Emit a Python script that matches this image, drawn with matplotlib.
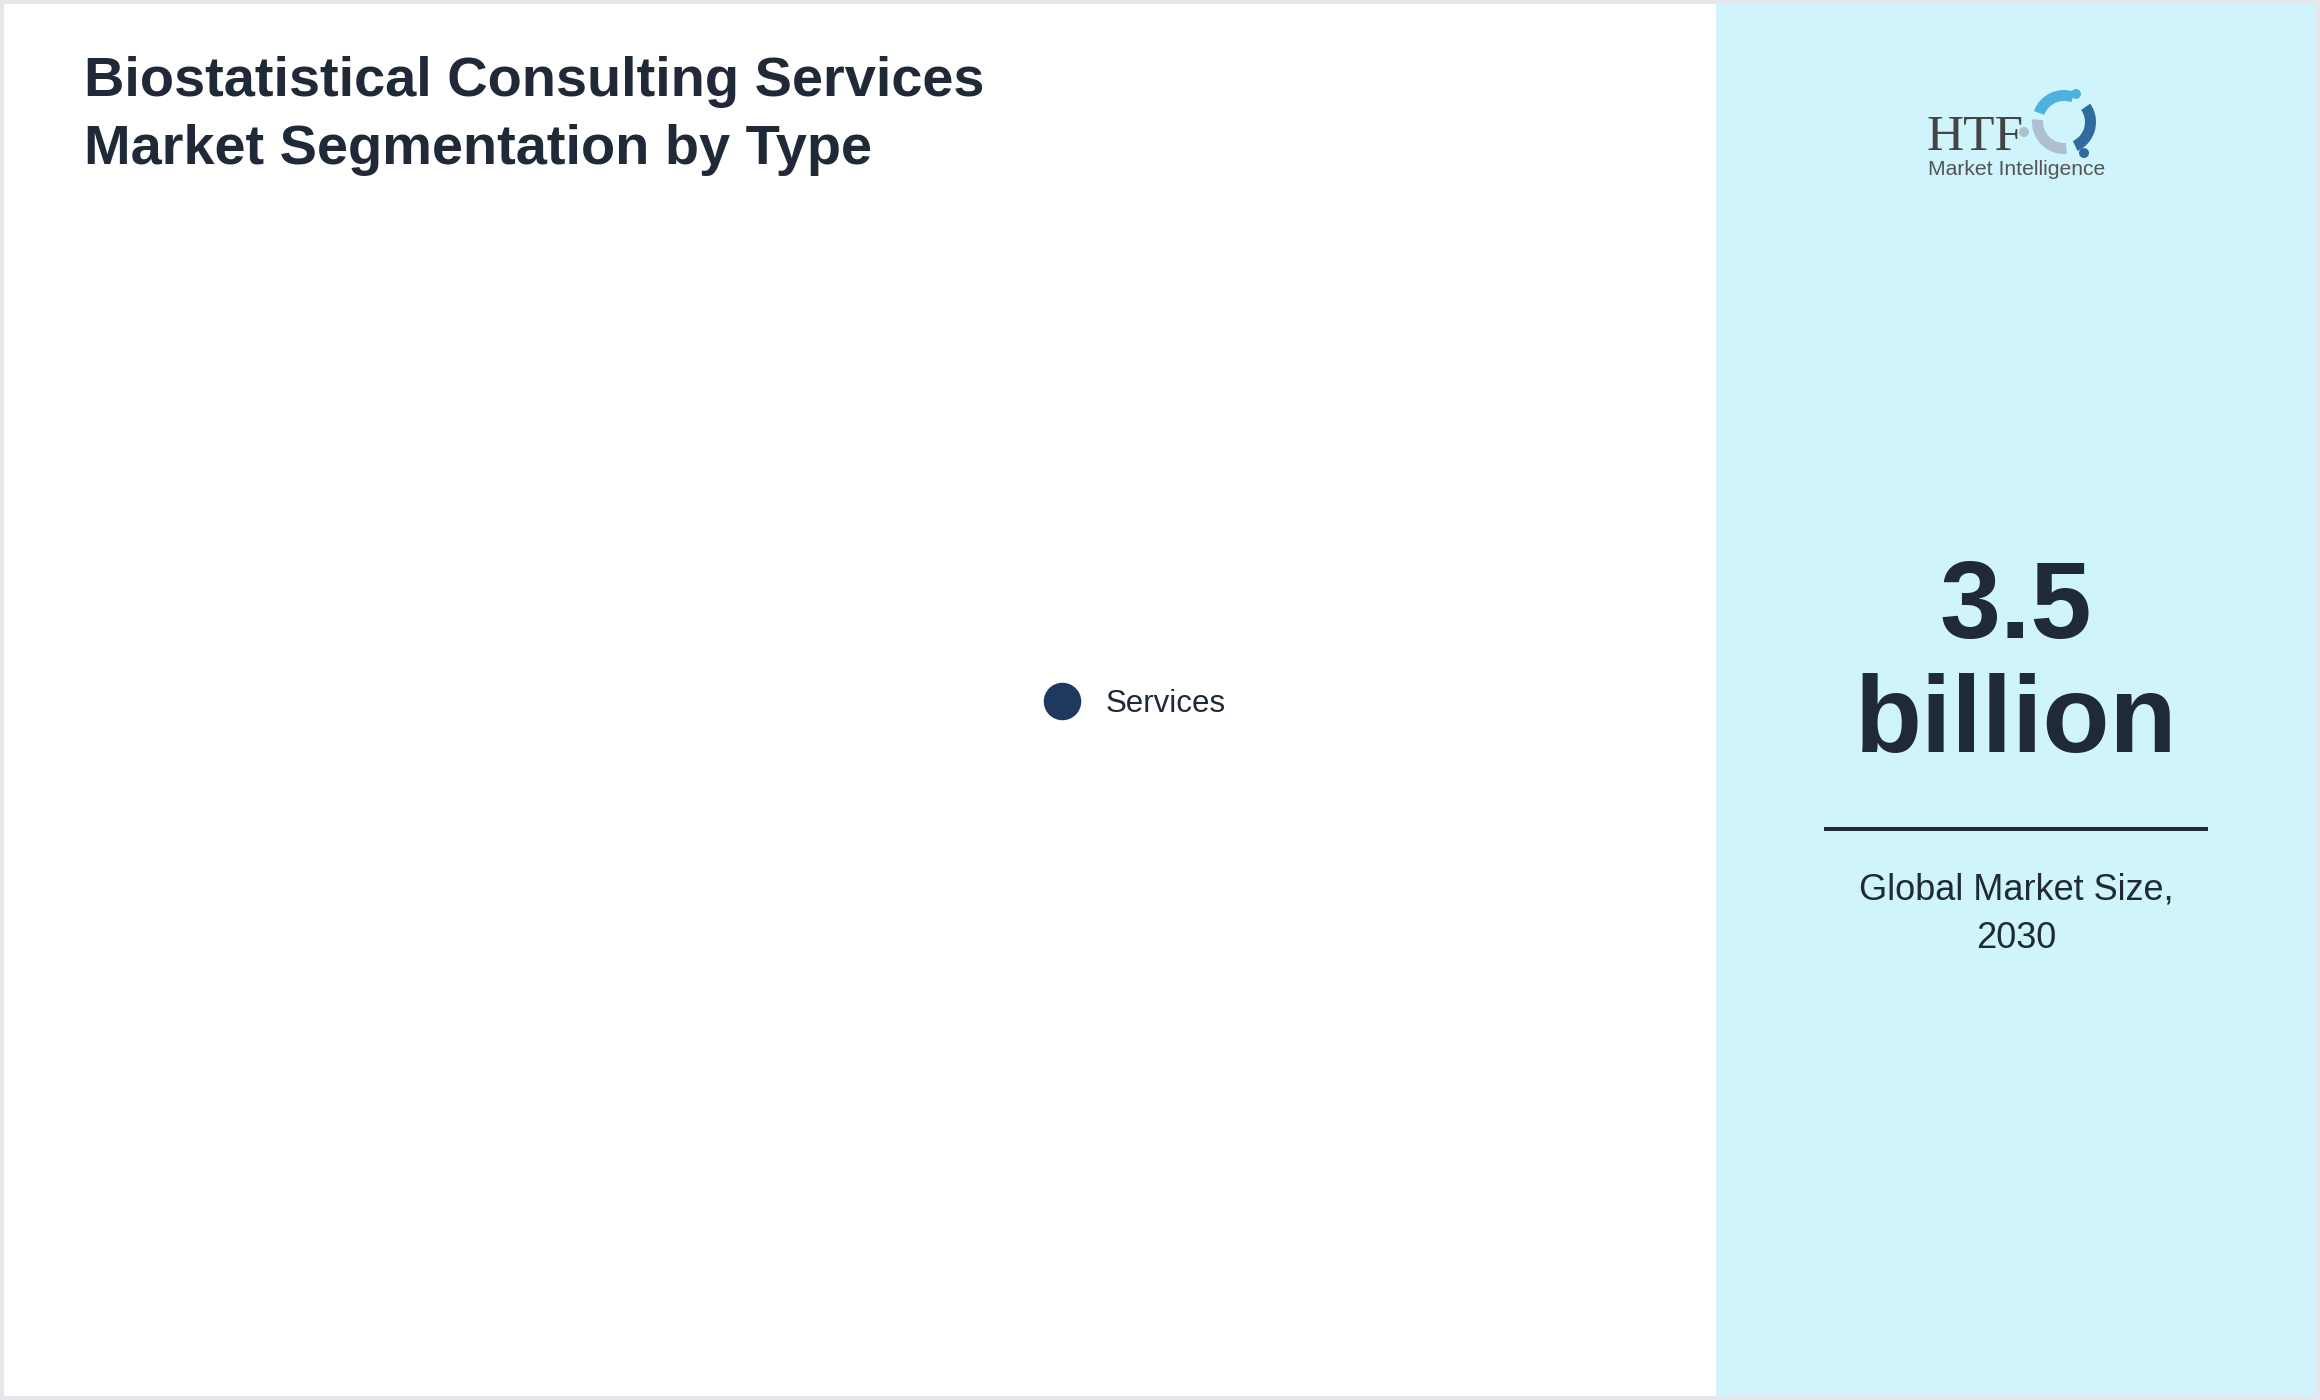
import matplotlib.pyplot as plt
from matplotlib.patches import Rectangle, Wedge, Circle
from matplotlib.lines import Line2D

# chart content
title_lines = ['Biostatistical Consulting Services', 'Market Segmentation by Type']
segments = ['Services']
segment_colors = ['#1e385e']
market_size = '3.5'
market_unit = 'billion'
size_caption = ['Global Market Size,', '2030']

W, H = 2320, 1400
ink = '#1f2937'
plt.rcParams['font.family'] = ['Liberation Sans', 'DejaVu Sans']

fig = plt.figure(figsize=(W / 100, H / 100), dpi=100)
ax = fig.add_axes([0, 0, 1, 1])
ax.set_xlim(0, W)
ax.set_ylim(H, 0)
ax.axis('off')

# frame and side panel
ax.add_patch(Rectangle((0, 0), W, H, facecolor='#e5e7eb', edgecolor='none'))
ax.add_patch(Rectangle((4, 4), W - 8, H - 8, facecolor='white', edgecolor='none'))
ax.add_patch(Rectangle((1716, 4), 600, H - 8, facecolor='#cff4fc', edgecolor='none'))

# title
for i, line in enumerate(title_lines):
    ax.text(84, 96 + i * 68, line, fontsize=40.3, fontweight='bold', color=ink,
            ha='left', va='baseline')

# legend (no slices drawn, only the legend entry)
handles = [Line2D([], [], linestyle='none', marker='o', markersize=26,
                  markerfacecolor=c, markeredgecolor=c) for c in segment_colors]
fig.legend(handles, segments, loc='center left', bbox_to_anchor=(1046.5 / W, 1 - 704 / H),
           frameon=False, fontsize=22.5, handlelength=1.0, handletextpad=0.89,
           borderpad=0, borderaxespad=0, labelcolor=ink)

# big number
cx = 2016
ax.text(cx, 638, market_size, fontsize=79, fontweight='bold', color=ink, ha='center', va='baseline')
ax.text(cx, 752, market_unit, fontsize=79, fontweight='bold', color=ink, ha='center', va='baseline')
ax.plot([1824, 2208], [829, 829], color=ink, lw=2.9, solid_capstyle='butt')
for i, line in enumerate(size_caption):
    ax.text(cx, 900 + i * 48, line, fontsize=26, color=ink, ha='center', va='baseline')

# logo
ax.text(1926, 150, 'HTF', fontsize=37, family=['Liberation Serif', 'DejaVu Serif'],
        color='#444444', ha='left', va='baseline')
ax.text(1928, 175, 'Market Intelligence', fontsize=15.2, color='#555555', ha='left', va='baseline')
icx, icy = 2064, 122
ax.add_patch(Wedge((icx, icy), 32, 200, 290, width=11, facecolor='#4fb1de', edgecolor='none'))
ax.add_patch(Wedge((icx, icy), 32, 85, 185, width=11, facecolor='#aebfd2', edgecolor='none'))
ax.add_patch(Wedge((icx, icy), 32, -35, 65, width=11, facecolor='#2f6b9e', edgecolor='none'))
ax.add_patch(Circle((2076, 94), 5, facecolor='#4fb1de', edgecolor='none'))
ax.add_patch(Circle((2024, 132), 5, facecolor='#aebfd2', edgecolor='none'))
ax.add_patch(Circle((2084, 153), 5, facecolor='#2f6b9e', edgecolor='none'))

fig.savefig('out.png', dpi=100)
